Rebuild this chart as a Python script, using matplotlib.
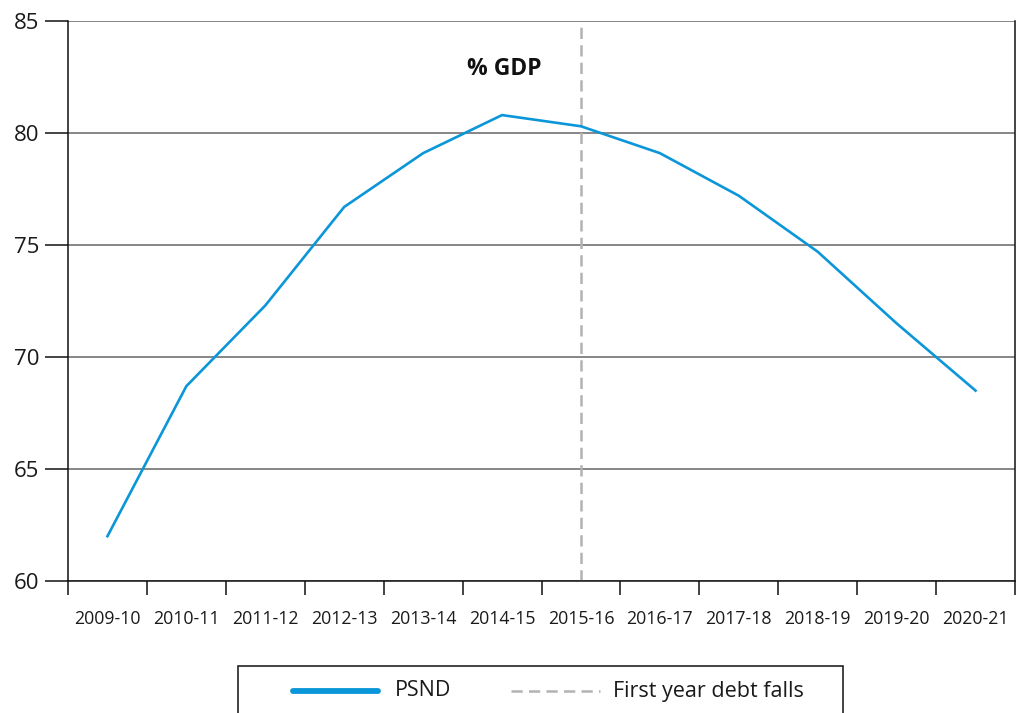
import matplotlib
matplotlib.use("Agg")
import matplotlib.pyplot as plt
from matplotlib.lines import Line2D
from matplotlib.patches import Rectangle
import numpy as np

plt.rcParams['font.family'] = ['Open Sans', 'DejaVu Sans']

# Public sector net debt, % of GDP, by fiscal year
years = ["2009-10", "2010-11", "2011-12", "2012-13", "2013-14", "2014-15",
         "2015-16", "2016-17", "2017-18", "2018-19", "2019-20", "2020-21"]
psnd = [62.0, 68.7, 72.3, 76.7, 79.1, 80.8, 80.3, 79.1, 77.2, 74.7, 71.5, 68.5]
first_fall_year = "2015-16"

y_ticks = [60, 65, 70, 75, 80, 85]
series_label = "PSND"
marker_label = "First year debt falls"
unit_title = "% GDP"

BLUE = "#0a96d8"
GREY_DASH = "#b3b3b3"
INK = "#1a1a1a"
W, H = 1016, 713
fig = plt.figure(figsize=(W / 100, H / 100), dpi=100)


def fx(px):
    return px / W


def fy(py):
    return 1 - py / H


left, right, top, bottom = 68, 1015, 21, 581
ax = fig.add_axes([fx(left), fy(bottom), fx(right) - fx(left), fy(top) - fy(bottom)])

x = np.arange(len(years))
ax.plot(x, psnd, color=BLUE, lw=1.9, solid_joinstyle="miter", zorder=3)
ax.axvline(years.index(first_fall_year), color=GREY_DASH, lw=1.8,
           dashes=(4.5, 2.5), zorder=2)

ax.set_xlim(-0.5, len(years) - 0.5)
ax.set_ylim(y_ticks[0], y_ticks[-1])
ax.set_yticks(y_ticks)
ax.yaxis.grid(True, color="#666666", lw=1.1)
ax.set_axisbelow(True)

# Category labels sit between boundary tick marks
ax.set_xticks(x)
ax.set_xticklabels(years, fontsize=12.8, color=INK)
ax.set_xticks(np.arange(len(years) + 1) - 0.5, minor=True)
ax.tick_params(axis="x", which="major", length=0, pad=21)
ax.tick_params(axis="x", which="minor", length=10, width=1.1, color="#111111")
ax.tick_params(axis="y", length=16.5, width=1.1, pad=4, labelsize=16,
               color="#111111", labelcolor=INK)

for side in ("left", "bottom", "right"):
    ax.spines[side].set_color("#111111")
    ax.spines[side].set_linewidth(1.1)
ax.spines["top"].set_visible(False)

fig.text(fx(504), fy(69), unit_title, fontsize=16.5, fontweight="bold",
         ha="center", va="center", color="#111111")

# Legend box along the bottom edge
fig.patches.append(Rectangle((fx(238), fy(730)), fx(843) - fx(238), fy(666) - fy(730),
                             transform=fig.transFigure, fill=False,
                             edgecolor="#111111", lw=1.1))
fig.lines.append(Line2D([fx(293), fx(378)], [fy(691), fy(691)], transform=fig.transFigure,
                        color=BLUE, lw=4.2, solid_capstyle="round"))
fig.lines.append(Line2D([fx(511), fx(600)], [fy(691), fy(691)], transform=fig.transFigure,
                        color=GREY_DASH, lw=1.8, dashes=(4.5, 2.5)))
fig.text(fx(395), fy(691), series_label, fontsize=15.5, va="center", ha="left", color=INK)
fig.text(fx(613), fy(691), marker_label, fontsize=15.5, va="center", ha="left", color=INK)

fig.savefig("out.png", dpi=100)
